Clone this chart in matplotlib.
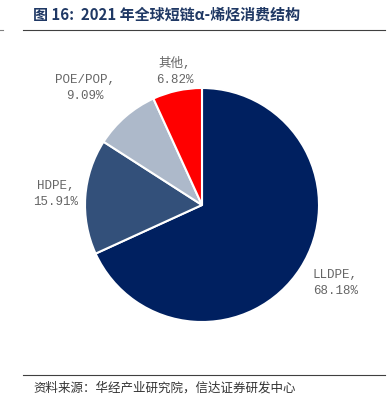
import matplotlib.pyplot as plt

plt.rcParams['font.family'] = ['Noto Sans CJK SC', 'DejaVu Sans']

labels = ["LLDPE", "HDPE", "POE/POP", "其他"]
shares = [68.18, 15.91, 9.09, 6.82]
colors = ["#002060", "#33507A", "#ADB9CA", "#FF0000"]
# label anchor points, in pie-radius units
label_pos = [(1.14, -0.67), (-1.25, 0.09), (-1.0, 1.0), (-0.23, 1.14)]

fig = plt.figure(figsize=(3.9, 4.01), dpi=100)
ax = fig.add_axes([85 / 390, 79 / 401, 234 / 390, 234 / 401])

ax.pie(shares, colors=colors, startangle=90, counterclock=False, radius=1,
       wedgeprops=dict(edgecolor="white", linewidth=1.5))
ax.set_xlim(-1, 1)
ax.set_ylim(-1, 1)
ax.set_aspect("equal")
ax.axis("off")

for lab, val, (x, y) in zip(labels, shares, label_pos):
    ax.text(x, y, f"{lab},\n{val:.2f}%", ha="center", va="center",
            fontsize=9, color="#666666", linespacing=1.45,
            family=["Liberation Mono", "Noto Sans CJK SC"], clip_on=False)

# title and rules
fig.text(33 / 390, 1 - 15 / 401, "图 16:  2021 年全球短链α-烯烃消费结构",
         fontsize=10.8, fontweight="bold", color="#1F3864", va="center", ha="left")
fig.add_artist(plt.Line2D([23 / 390, 385 / 390], [1 - 30 / 401] * 2,
                          color="#404040", linewidth=0.8))
fig.add_artist(plt.Line2D([0, 3 / 390], [1 - 30 / 401] * 2,
                          color="#808080", linewidth=0.8))
fig.add_artist(plt.Line2D([23 / 390, 385 / 390], [1 - 375 / 401] * 2,
                          color="#404040", linewidth=0.8))
fig.text(33 / 390, 1 - 388 / 401, "资料来源：华经产业研究院，信达证券研发中心",
         fontsize=9, color="#333333", va="center", ha="left")

fig.savefig("out.png", dpi=100)
